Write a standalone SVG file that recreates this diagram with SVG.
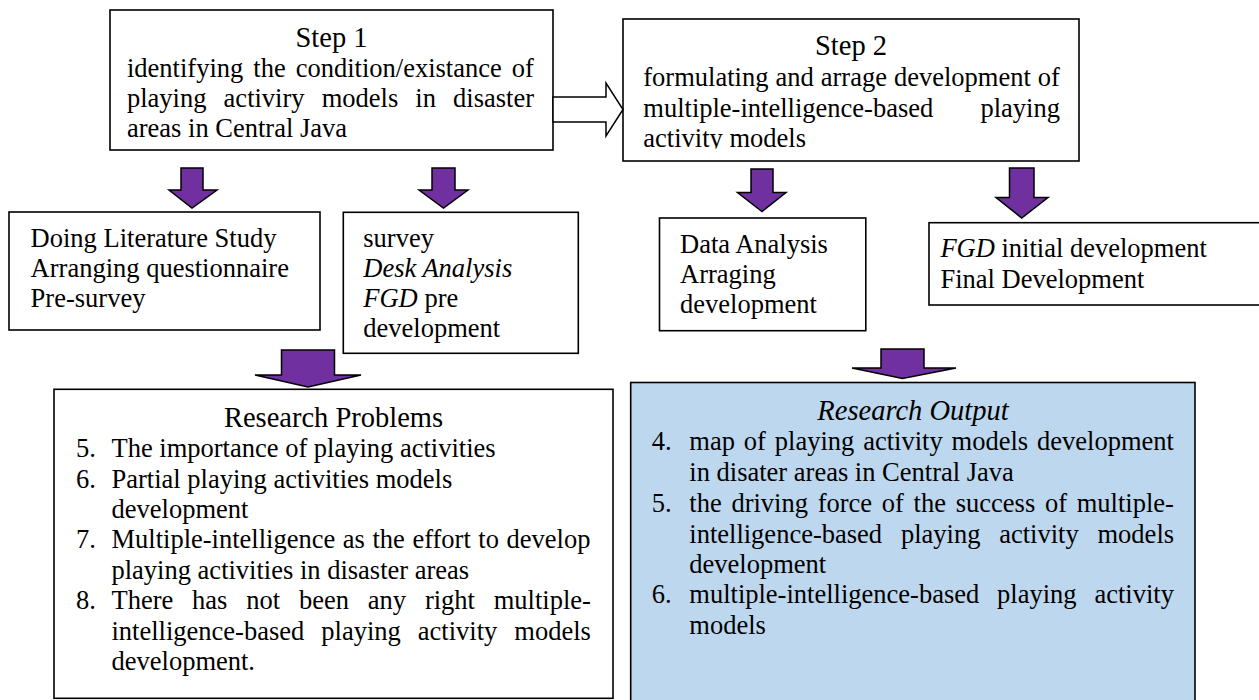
<svg xmlns="http://www.w3.org/2000/svg" width="1259" height="700" viewBox="0 0 1259 700">
<style>
.box{fill:#fff;stroke:#000;stroke-width:1.6}
.blue{fill:#BDD7EE;stroke:#000;stroke-width:1.6}
.t{font-family:"Liberation Serif","Times New Roman",serif;font-size:26.5px;fill:#000}
.title{font-size:28.5px}
.c{text-anchor:middle}
.i{font-style:italic}
.pa{fill:#7030A0;stroke:#000;stroke-width:1.5;stroke-linejoin:miter}
.ha{fill:#fff;stroke:#000;stroke-width:1.5;stroke-linejoin:miter}
</style>
<defs>
<clipPath id="clipStep2"><rect x="623" y="19" width="456" height="129.5"/></clipPath>
</defs>
<rect width="1259" height="700" fill="#fff"/>

<g id="step1">
<rect class="box" x="110" y="10" width="443" height="140"/>
<text class="t title c" x="331.5" y="46.7">Step 1</text>
<text class="t" x="127" y="76.7" word-spacing="3.4">identifying the condition/existance of</text>
<text class="t" x="127" y="106.7" word-spacing="10.5">playing activiry models in disaster</text>
<text class="t" x="127" y="136.7">areas in Central Java</text>
</g>

<g id="step2">
<rect class="box" x="623" y="19" width="456" height="142"/>
<text class="t title c" x="851" y="55">Step 2</text>
<text class="t" x="643.3" y="86" word-spacing="0.4">formulating and arrage development of</text>
<text class="t" x="643.3" y="116.5" word-spacing="40.6">multiple-intelligence-based playing</text>
<text class="t" x="643.3" y="147" clip-path="url(#clipStep2)">activity models</text>
</g>

<g id="literature">
<rect class="box" x="9" y="212" width="311" height="118"/>
<text class="t" x="30.6" y="246.7">Doing Literature Study</text>
<text class="t" x="30.6" y="276.7">Arranging questionnaire</text>
<text class="t" x="30.6" y="306.7">Pre-survey</text>
</g>

<g id="survey">
<rect class="box" x="343.3" y="212.3" width="235" height="141"/>
<text class="t" x="363.3" y="246.7">survey</text>
<text class="t i" x="363.3" y="276.7">Desk Analysis</text>
<text class="t" x="363.3" y="307"><tspan class="i">FGD</tspan> pre</text>
<text class="t" x="363.3" y="337">development</text>
</g>

<g id="data-analysis">
<rect class="box" x="659.5" y="218" width="206.3" height="112.7"/>
<text class="t" x="680" y="253">Data Analysis</text>
<text class="t" x="680" y="283">Arraging</text>
<text class="t" x="680" y="313">development</text>
</g>

<g id="fgd">
<rect class="box" x="929" y="222.7" width="335" height="82.3"/>
<text class="t" x="940.4" y="257.3"><tspan class="i">FGD</tspan> initial development</text>
<text class="t" x="940.4" y="288.3">Final Development</text>
</g>

<g id="research-problems">
<rect class="box" x="54" y="389.3" width="559" height="309"/>
<text class="t title c" x="333.5" y="426.7">Research Problems</text>
<text class="t" x="76" y="457.3">5.</text>
<text class="t" x="111.5" y="457.3">The importance of playing activities</text>
<text class="t" x="76" y="487.7">6.</text>
<text class="t" x="111.5" y="487.7">Partial playing activities models</text>
<text class="t" x="111.5" y="518">development</text>
<text class="t" x="76" y="548.4">7.</text>
<text class="t" x="111.5" y="548.4" word-spacing="0.96">Multiple-intelligence as the effort to develop</text>
<text class="t" x="111.5" y="578.8">playing activities in disaster areas</text>
<text class="t" x="76" y="609.2">8.</text>
<text class="t" x="111.5" y="609.2" word-spacing="12.2">There has not been any right multiple-</text>
<text class="t" x="111.5" y="639.6" word-spacing="10.4">intelligence-based playing activity models</text>
<text class="t" x="111.5" y="670">development.</text>
</g>

<g id="research-output">
<rect class="blue" x="630.7" y="382.5" width="564.3" height="330"/>
<text class="t title c i" x="913" y="420">Research Output</text>
<text class="t" x="651.7" y="450">4.</text>
<text class="t" x="689.3" y="450" word-spacing="2.28">map of playing activity models development</text>
<text class="t" x="689.3" y="481">in disater areas in Central Java</text>
<text class="t" x="651.7" y="511.7">5.</text>
<text class="t" x="689.3" y="511.7" word-spacing="3.1">the driving force of the success of multiple-</text>
<text class="t" x="689.3" y="542.7" word-spacing="12.2">intelligence-based playing activity models</text>
<text class="t" x="689.3" y="572.7">development</text>
<text class="t" x="651.7" y="603.3">6.</text>
<text class="t" x="689.3" y="603.3" word-spacing="11.25">multiple-intelligence-based playing activity</text>
<text class="t" x="689.3" y="634.3">models</text>
</g>

<g id="connectors">
<polygon class="ha" points="553,97 606,97 606,83 623,109.5 606,136 606,122 553,122"/>
<polygon class="pa" points="181,168 203,168 203,190 217,190 192,208 169,190 181,190"/>
<polygon class="pa" points="432,168 455,168 455,190 468,190 443.5,208 419,190 432,190"/>
<polygon class="pa" points="751,169 773,169 773,192.5 786,192.5 762,211.5 737.5,192.5 751,192.5"/>
<polygon class="pa" points="1009.5,168 1034,168 1034,197.5 1048,197.5 1021.7,218 996,197.5 1009.5,197.5"/>
<polygon class="pa" points="281.5,350 334.5,350 334.5,375 361,375 308,387 255,375 281.5,375"/>
<polygon class="pa" points="881,349 924,349 924,368 956,368 902.5,378.5 852,368 881,368"/>
</g>
</svg>
